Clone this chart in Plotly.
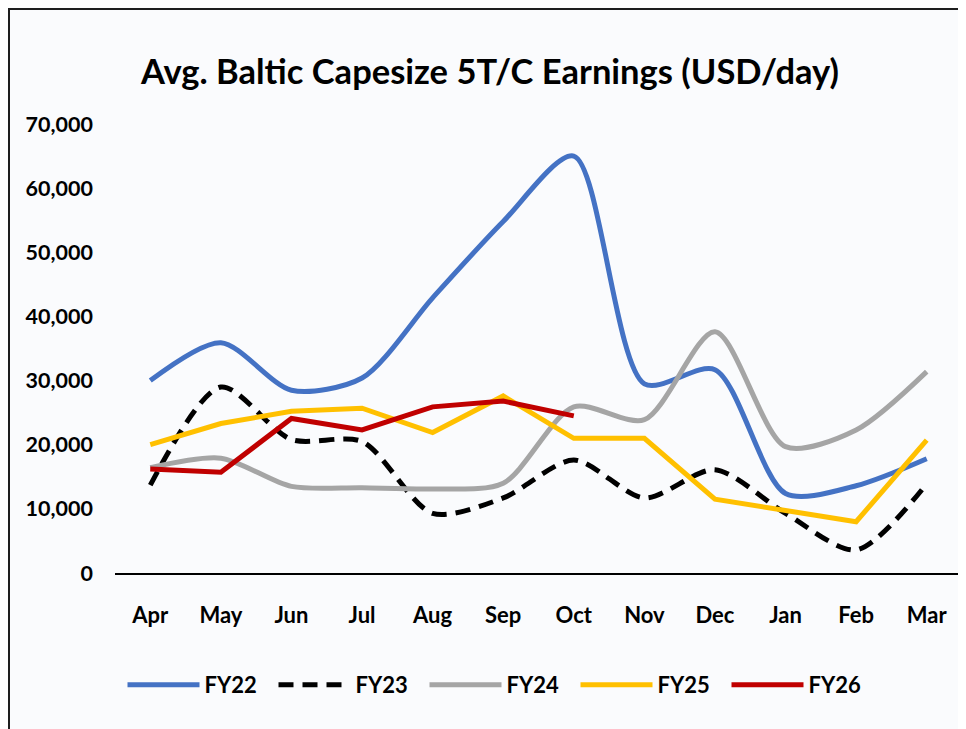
import plotly.graph_objects as go

months = ["Apr", "May", "Jun", "Jul", "Aug", "Sep", "Oct", "Nov", "Dec", "Jan", "Feb", "Mar"]
fy22 = [30000, 35900, 28500, 30400, 42900, 54800, 65000, 29500, 31700, 12400, 13600, 17800]
fy23 = [13700, 29000, 20800, 20500, 9300, 11700, 17600, 11700, 16100, 9300, 3600, 13900]
fy24 = [16400, 17900, 13500, 13300, 13100, 14000, 25900, 23900, 37600, 19700, 22300, 31400]
fy25 = [20000, 23300, 25200, 25700, 21900, 27600, 21000, 21000, 11500, 9800, 8000, 20700]
fy26 = [16200, 15700, 24100, 22300, 25900, 26800, 24500]
y_ticks = [0, 10000, 20000, 30000, 40000, 50000, 60000, 70000]

FONT = "Lato, Open Sans, sans-serif"

fig = go.Figure()
fig.add_trace(go.Scatter(x=months, y=fy22, name="FY22", mode="lines",
                         line=dict(color="#4472C4", width=5, shape="spline", smoothing=0.8)))
fig.add_trace(go.Scatter(x=months, y=fy23, name="FY23", mode="lines",
                         line=dict(color="#000000", width=5, shape="spline", smoothing=0.8, dash="15px,9px")))
fig.add_trace(go.Scatter(x=months, y=fy24, name="FY24", mode="lines",
                         line=dict(color="#A5A5A5", width=5, shape="spline", smoothing=0.8)))
fig.add_trace(go.Scatter(x=months, y=fy25, name="FY25", mode="lines",
                         line=dict(color="#FFC000", width=5)))
fig.add_trace(go.Scatter(x=months[:len(fy26)], y=fy26, name="FY26", mode="lines",
                         line=dict(color="#C00000", width=5)))

# page offset of the plot div (body margin)
OFF = 8
W, H = 966, 729
# target pixel geometry of plot area in the screenshot
X0, X1, YB, YT = 115, 962, 573, 124
def px(x):
    return (x - X0) / (X1 - X0)
def py(y):
    return (YB - y) / (YB - YT)

fig.add_shape(type="rect", xref="paper", yref="paper",
              x0=px(OFF + 1), x1=px(1000), y0=py(OFF + 1), y1=py(780),
              fillcolor="#FAFBFD", line=dict(color="#1e1e1e", width=2), layer="below")

bold = lambda s: dict(size=s, family=FONT, color="#000000", weight="bold")

L = X0 - OFF
T = YT - OFF
fig.update_layout(
    width=W, height=H,
    margin=dict(l=L, r=W - L - (X1 - X0), t=T, b=H - T - (YB - YT), pad=0),
    paper_bgcolor="white",
    plot_bgcolor="rgba(0,0,0,0)",
    font=dict(family=FONT, color="#000000"),
    title=dict(text="Avg. Baltic Capesize 5T/C Earnings (USD/day)",
               x=(490 - OFF) / W, xref="container", xanchor="center",
               y=1 - (72 - OFF) / H, yref="container", yanchor="middle",
               font=bold(34.5)),
    xaxis=dict(showgrid=False, showline=True, linecolor="#000000", linewidth=1.5,
               range=[-0.5, 11.5],
               ticks="", tickfont=bold(22),
               ticklabelstandoff=22, zeroline=False),
    yaxis=dict(range=[0, 70000], tickvals=y_ticks, tickformat=",d",
               showgrid=False, showline=False, zeroline=False, ticks="",
               tickfont=bold(21.5), ticklabelstandoff=21),
    legend=dict(orientation="h", x=px(500), xanchor="center", y=py(685), yanchor="middle",
                entrywidth=64, entrywidthmode="pixels", itemwidth=72,
                font=bold(22), bgcolor="rgba(0,0,0,0)"),
    showlegend=True,
)

fig.write_html("out.html")
